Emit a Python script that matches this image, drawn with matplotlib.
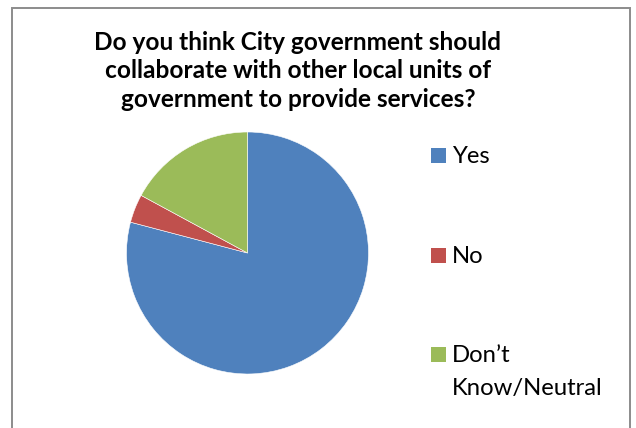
import matplotlib.pyplot as plt
from matplotlib.patches import Rectangle

# survey answers (share of respondents)
labels = ['Yes', 'No', 'Don\u2019t\nKnow/Neutral']
shares = [79.1, 3.8, 17.1]
colors = ['#4F81BD', '#C0504D', '#9BBB59']
title = 'Do you think City government should\ncollaborate with other local units of\ngovernment to provide services?'

W, H = 636, 428
fig = plt.figure(figsize=(W / 100, H / 100), dpi=100)
fig.patch.set_facecolor('white')

# chart border (bottom edge runs off the picture)
fig.patches.append(Rectangle((12 / W, -0.05), 618 / W, 1.05 - 8 / H, transform=fig.transFigure,
                             fill=False, edgecolor='#8c8c8c', linewidth=1.4))

# pie
cx, cy, r = 247.5, 253, 121
ax = fig.add_axes([(cx - r) / W, 1 - (cy + r) / H, 2 * r / W, 2 * r / H])
ax.pie(shares, colors=colors, startangle=90, counterclock=False, radius=1,
       wedgeprops=dict(edgecolor='white', linewidth=0.4))
ax.set_xlim(-1, 1)
ax.set_ylim(-1, 1)
ax.set_aspect('auto')
ax.axis('off')

# title, one line at a time so spacing follows the reference
for i, line in enumerate(title.split('\n')):
    fig.text(298 / W, 1 - (50 + i * 28.5) / H, line, ha='center', va='baseline', fontsize=17.6,
             fontweight='bold', family='Lato')

# legend drawn by hand, Excel style
rows = [163, 263, 362]
for lab, col, base in zip(labels, colors, rows):
    fig.patches.append(Rectangle((431 / W, 1 - base / H), 15 / W, 15 / H,
                                 transform=fig.transFigure, facecolor=col, edgecolor='none'))
    for i, line in enumerate(lab.split('\n')):
        fig.text(452 / W, 1 - (base + i * 33) / H, line, ha='left', va='baseline',
                 fontsize=17.2, family='Lato')

fig.savefig('out.png', dpi=100)
